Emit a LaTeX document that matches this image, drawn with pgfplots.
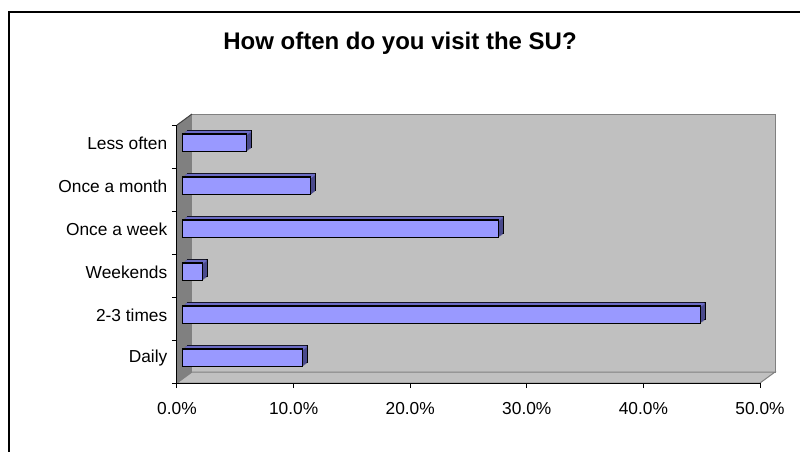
\documentclass[border=0pt]{standalone}
\usepackage{pgfplots}
\pgfplotsset{compat=1.18}
\usepackage{pgfplotstable}
\usepackage{fontspec}
\setmainfont{Liberation Sans}
\usetikzlibrary{calc}
\definecolor{barfront}{HTML}{9999FF}
\definecolor{bartop}{HTML}{6B6BC4}
\definecolor{barside}{HTML}{4A4A8C}
\definecolor{wallc}{HTML}{C0C0C0}
\definecolor{sidewall}{HTML}{808080}

\pgfplotstableread{
idx value
0 10.3
1 44.4
2 1.7
3 27.1
4 11.0
5 5.5
}\survey

\pgfplotsset{
  bar3d/.style={xbar, bar shift=0pt, bar width=13.2pt, forget plot},
}

\begin{document}
\begin{tikzpicture}[x=0.75pt,y=0.75pt]
\useasboundingbox (0,0) rectangle (800,451);
\clip (0,0) rectangle (800,451);
\fill[white] (0,0) rectangle (800,451);
\draw[line width=1.5pt] (9,-10) rectangle (812,439);
\node[font=\bfseries\fontsize{18}{21}\selectfont] at (400,408) {How often do you visit the SU?};
\begin{axis}[
  at={(132.75pt,51pt)}, anchor=south west,
  scale only axis, width=437.25pt, height=193.5pt,
  xmin=0, xmax=50, ymin=-0.5, ymax=5.5,
  clip=false, axis on top,
  axis x line*=bottom, axis y line*=left,
  axis line style={line width=0.75pt, black, -},
  every tick/.style={black, line width=0.75pt},
  tick align=outside,
  major tick length=3.75pt,
  xtick={0,10,...,50},
  xticklabel={\pgfmathprintnumber[fixed,fixed zerofill,precision=1]{\tick}\%},
  xticklabel style={yshift=-7pt},
  /pgf/number format/assume math mode=true,
  ytick={-0.5,0.5,...,5.5},
  yticklabels={},
  extra y ticks={0,1,2,3,4,5},
  extra y tick labels={Daily,2-3 times,Weekends,Once a week,Once a month,Less often},
  extra y tick style={major tick length=0pt, yticklabel style={xshift=-3.75pt, yshift=2.7pt}},
  ticklabel style={font=\fontsize{13}{15}\selectfont},
]
% back wall
\fill[wallc, draw=sidewall, line width=0.75pt] ($(0,-0.5)+(11.25pt,8.25pt)$) rectangle ($(50,5.5)+(11.25pt,8.25pt)$);
% floor
\fill[wallc, draw=sidewall, line width=0.75pt] (0,-0.5) -- (50,-0.5) -- ($(50,-0.5)+(11.25pt,8.25pt)$) -- ($(0,-0.5)+(11.25pt,8.25pt)$) -- cycle;
% left wall
\fill[sidewall] (0,-0.5) -- (0,5.5) -- ($(0,5.5)+(11.25pt,8.25pt)$) -- ($(0,-0.5)+(11.25pt,8.25pt)$) -- cycle;
\draw[black!75, line width=0.75pt] (0,5.5) -- ($(0,5.5)+(11.25pt,8.25pt)$);

% bar depth (side faces)
\addplot[bar3d, fill=barside, draw=black, line width=0.75pt, xshift=8.0pt, yshift=5.7pt] table[x=value,y=idx]{\survey};
\addplot[bar3d, fill=barside, draw=none, xshift=7.22pt, yshift=5.1pt] table[x=value,y=idx]{\survey};
\addplot[bar3d, fill=barside, draw=none, xshift=6.44pt, yshift=4.5pt] table[x=value,y=idx]{\survey};
\addplot[bar3d, fill=barside, draw=none, xshift=5.66pt, yshift=3.9pt] table[x=value,y=idx]{\survey};
\addplot[bar3d, fill=barside, draw=none, xshift=4.88pt, yshift=3.3pt] table[x=value,y=idx]{\survey};
% bar top faces
\addplot[bar3d, bar width=1.2pt, fill=bartop, draw=none, xshift=4.88pt, yshift=9.3pt] table[x=value,y=idx]{\survey};
\addplot[bar3d, bar width=1.2pt, fill=bartop, draw=none, xshift=5.66pt, yshift=9.9pt] table[x=value,y=idx]{\survey};
\addplot[bar3d, bar width=1.2pt, fill=bartop, draw=none, xshift=6.44pt, yshift=10.5pt] table[x=value,y=idx]{\survey};
\addplot[bar3d, bar width=1.2pt, fill=bartop, draw=none, xshift=7.22pt, yshift=11.1pt] table[x=value,y=idx]{\survey};
% front faces
\addplot[bar3d, fill=barfront, draw=black, line width=1pt, xshift=4.1pt, yshift=2.7pt] table[x=value,y=idx]{\survey};
\end{axis}
\end{tikzpicture}
\end{document}
